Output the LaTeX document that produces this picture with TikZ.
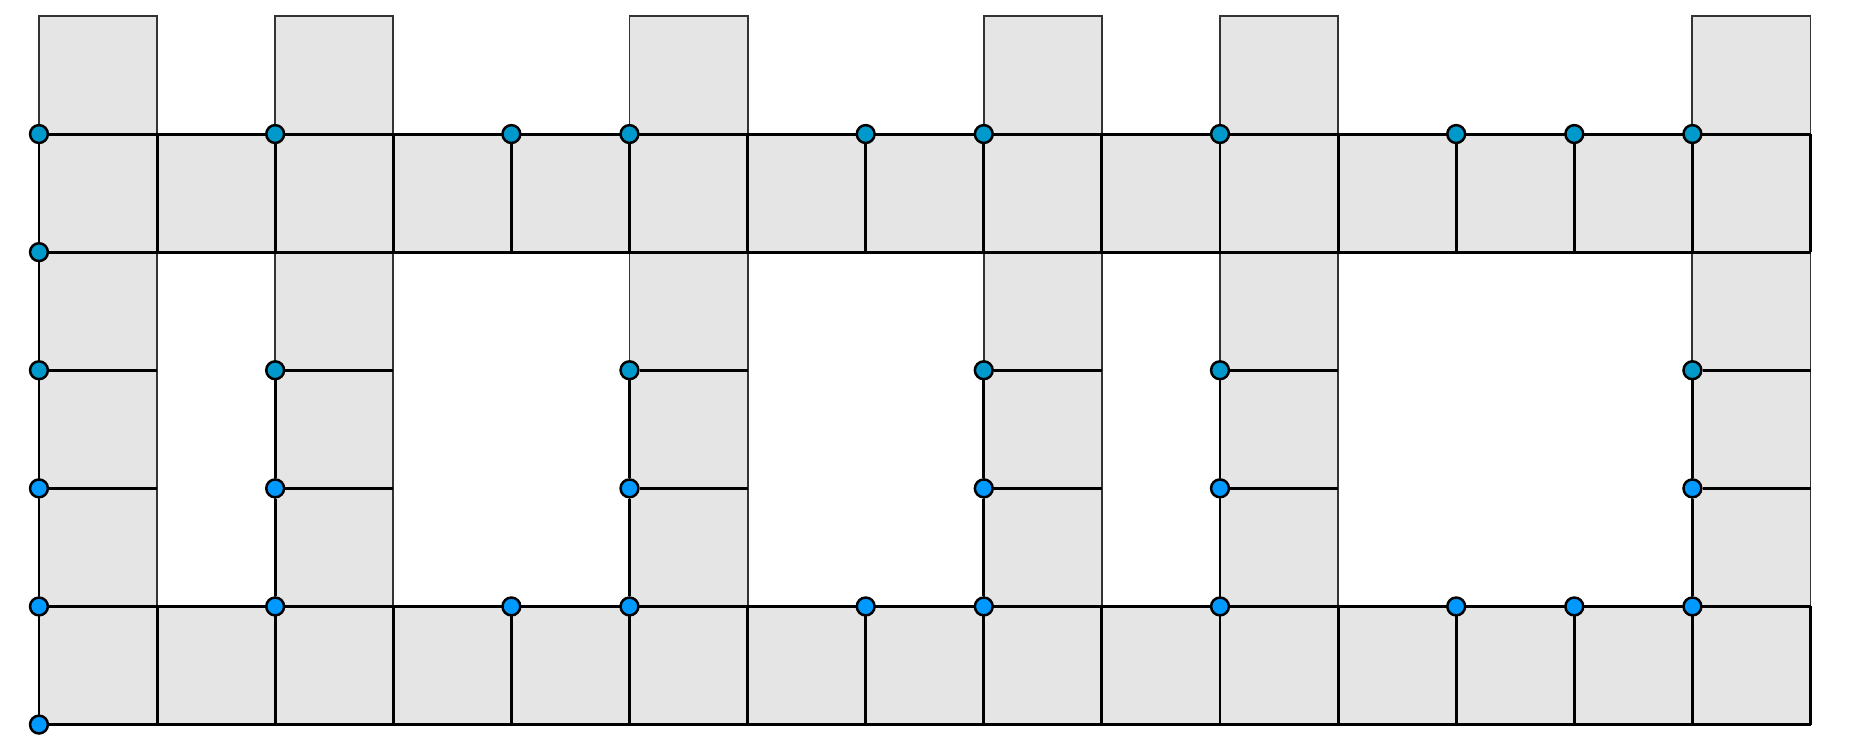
\documentclass[tikz,border=0pt]{standalone}
\definecolor{cellgray}{RGB}{229,229,229}
\definecolor{dotteal}{RGB}{0,153,204}
\definecolor{dotblue}{RGB}{0,153,255}
\pgfdeclarelayer{back}
\pgfsetlayers{back,main}
\tikzset{
	rim/.style={draw=black!80, line width=0.45pt},
	link/.style={draw=black, line width=0.7pt},
	pin/.style={circle, draw=black, line width=0.6pt, inner sep=0pt, minimum size=4.3pt},
}
\begin{document}
\begin{tikzpicture}
	\useasboundingbox (-0.33,-0.192) rectangle (15.326,6.135);
	\begin{pgfonlayer}{back}
	%gray bars and bands
	\foreach \x in {0,2,5,8,10,14}{
		\fill[cellgray] (\x,0) rectangle (\x+1,6);}
	\fill[cellgray] (0,4) rectangle (15,5);
	\fill[cellgray] (0,0) rectangle (15,1);
	\foreach \x in {0,2,5,8,10,14}{
		\draw[rim] (\x,0) rectangle (\x+1,6);}		%thin outline of each bar
	\draw[link] (0,4) grid (15,5);
	\draw[link] (0,0) grid (15,1);
	\end{pgfonlayer}
	
	%dots
	\foreach \x in {0,2,4,5,7,8,10,12,13,14}{
		\node[pin, fill=dotteal] (n-\x-5) at (\x,5) {};
		\node[pin, fill=dotblue] (n-\x-1) at (\x,1) {};}
	\foreach \x in {0,2,5,8,10,14}{
		\node[pin, fill=dotteal] (n-\x-3) at (\x,3) {};
		\node[pin, fill=dotblue] (n-\x-2) at (\x,2) {};
		\coordinate (r-\x-3) at (\x+1,3);
		\coordinate (r-\x-2) at (\x+1,2);}
	\node[pin, fill=dotteal] (n-0-4) at (0,4) {};
	\node[pin, fill=dotblue] (n-0-0) at (0,0) {};
	
	\begin{pgfonlayer}{back}
	%rungs and legs inside the bars
	\foreach \x in {0,2,5,8,10,14}{
		\draw[link] (n-\x-3) -- (r-\x-3);
		\draw[link] (n-\x-2) -- (r-\x-2);
		\draw[link] (n-\x-3) -- (n-\x-2) -- (n-\x-1);}
	\draw[link] (n-0-5) -- (n-0-4) -- (n-0-3);		%left column runs all the way down
	\draw[link] (n-0-1) -- (n-0-0);
	\end{pgfonlayer}
\end{tikzpicture}
\end{document}
